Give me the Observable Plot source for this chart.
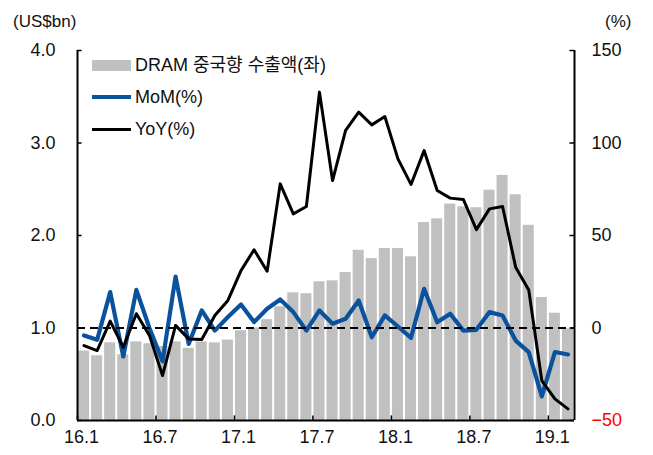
<!DOCTYPE html>
<html><head><meta charset="utf-8">
<script src="https://cdn.jsdelivr.net/npm/d3@7"></script>
<script src="https://cdn.jsdelivr.net/npm/@observablehq/plot@0.6"></script>
<style>
body{margin:0;background:#fff;}
#wrap{position:relative;width:653px;height:455px;font-family:"Liberation Sans",Arial,"Noto Sans CJK KR",sans-serif;color:#111;}
#wrap svg{position:absolute;left:0;top:0;}
.lab{position:absolute;font-size:18px;line-height:20px;white-space:nowrap;}
.sw{position:absolute;}
</style></head><body><div id="wrap"></div>
<script>
const months = ["16.1","16.2","16.3","16.4","16.5","16.6","16.7","16.8","16.9","16.10","16.11","16.12",
  "17.1","17.2","17.3","17.4","17.5","17.6","17.7","17.8","17.9","17.10","17.11","17.12",
  "18.1","18.2","18.3","18.4","18.5","18.6","18.7","18.8","18.9","18.10","18.11","18.12",
  "19.1","19.2"];
const exportsBn = [0.75,0.70,0.84,0.71,0.85,0.83,0.80,0.85,0.78,0.85,0.84,0.87,
  0.97,1.00,1.09,1.23,1.38,1.37,1.50,1.51,1.60,1.84,1.75,1.86,
  1.86,1.77,2.14,2.18,2.34,2.31,2.30,2.49,2.65,2.44,2.11,1.33,
  1.16,0.99];
const momPct = [-4,-6.4,19.4,-15.4,20.6,0,-18,27.8,-8.6,9.5,-1.4,5.9,
  12.7,3.2,10.4,15.4,8.6,-1.4,9.5,2.3,5,14.9,-5,6.8,
  0.8,-5.3,21.2,3.1,7.7,-1.4,-1,8.6,6.8,-6.8,-13,-37,
  -13,-14.3];
const yoyPct = [-9.5,-12.2,3.7,-10.4,7.7,-4,-25.7,1.4,-5.9,-6.2,6.8,14.9,
  31,42.3,30.7,77.9,61.7,65.7,127.5,79.7,106.8,116.7,109.8,114.3,
  91.4,77.6,95.9,74.3,70.2,69.5,53.2,64.4,65.7,32.9,20.6,-28.4,
  -38.3,-43.7];
const xTickLabels = ["16.1","16.7","17.1","17.7","18.1","18.7","19.1"];
const leftTicks = [0,1,2,3,4];
const rightTicks = [-50,0,50,100,150];

const toL = p => 1 + p / 50;
const data = months.map((m, i) => ({i, m, bar: exportsBn[i], mom: momPct[i], yoy: yoyPct[i]}));
const xTickIdx = xTickLabels.map(l => months.indexOf(l));
const font = '"Liberation Sans",Arial,"Noto Sans CJK KR",sans-serif';
const fmtR = p => p < 0 ? "\u2212" + Math.abs(p) : String(p);

const plot = Plot.plot({
  width: 653, height: 455,
  marginLeft: 77, marginRight: 79, marginTop: 50, marginBottom: 35,
  x: {type: "linear", domain: [0, months.length]},
  y: {domain: [0, 4]},
  style: {fontSize: "18px", fontFamily: font, color: "#111", background: "white", overflow: "visible"},
  marks: [
    Plot.rectY(data, {x1: "i", x2: d => d.i + 1, y: "bar", fill: "#c0c0c0", insetLeft: 1, insetRight: 1}),
    Plot.lineY(data, {x: d => d.i + 0.5, y: d => toL(d.mom), stroke: "#0b529e", strokeWidth: 4.2}),
    Plot.lineY(data, {x: d => d.i + 0.5, y: d => toL(d.yoy), stroke: "#000", strokeWidth: 3}),
    Plot.ruleY([toL(0)], {stroke: "#000", strokeWidth: 2.2, strokeDasharray: "8,5"}),
    // axis lines
    Plot.ruleX([0, months.length], {y1: 0, y2: 4, stroke: "#000", strokeWidth: 2}),
    Plot.ruleY([0], {stroke: "#000", strokeWidth: 2}),
    // inward ticks
    Plot.ruleY(leftTicks, {x1: 0, x2: 0.35, stroke: "#000", strokeWidth: 1.5}),
    Plot.ruleY(rightTicks.map(toL), {x1: months.length - 0.35, x2: months.length, stroke: "#000", strokeWidth: 1.5}),
    Plot.ruleX(xTickIdx, {y1: 0, y2: 0.05, stroke: "#000", strokeWidth: 1.5}),
    // tick labels
    Plot.axisY({anchor: "left", label: null, ticks: leftTicks, tickSize: 0, tickPadding: 22, tickFormat: d => d.toFixed(1), fill: "#111"}),
    Plot.axisY({anchor: "right", label: null, ticks: rightTicks.map(toL), tickSize: 0, tickPadding: 17,
      tickFormat: v => fmtR(Math.round((v - 1) * 50)),
      fill: v => (Math.round((v - 1) * 50) < 0 ? "#ff0000" : "#111")}),
    Plot.axisX({label: null, ticks: xTickIdx, tickSize: 0, tickPadding: 10, dx: 4,
      tickFormat: i => months[i]}),
  ]
});
const wrap = document.getElementById("wrap");
wrap.appendChild(plot);

function addLab(text, left, top, extra) {
  const d = document.createElement("div");
  d.className = "lab"; d.textContent = text;
  d.style.left = left + "px"; d.style.top = top + "px";
  if (extra) Object.assign(d.style, extra);
  wrap.appendChild(d);
}
function addSw(left, top, w, h, color) {
  const d = document.createElement("div");
  d.className = "sw";
  Object.assign(d.style, {left: left + "px", top: top + "px", width: w + "px", height: h + "px", background: color});
  wrap.appendChild(d);
}
addLab("(US$bn)", 13, 12, {fontSize: "17px"});
addLab("(%)", 605, 12, {fontSize: "17px"});
// legend
addSw(92, 60, 39, 11, "#c0c0c0");
addLab("DRAM 중국향 수출액(좌)", 135, 55);
addSw(92, 95, 39, 4, "#0b529e");
addLab("MoM(%)", 135, 87);
addSw(92, 128, 39, 3, "#000");
addLab("YoY(%)", 135, 119);
</script></body></html>
